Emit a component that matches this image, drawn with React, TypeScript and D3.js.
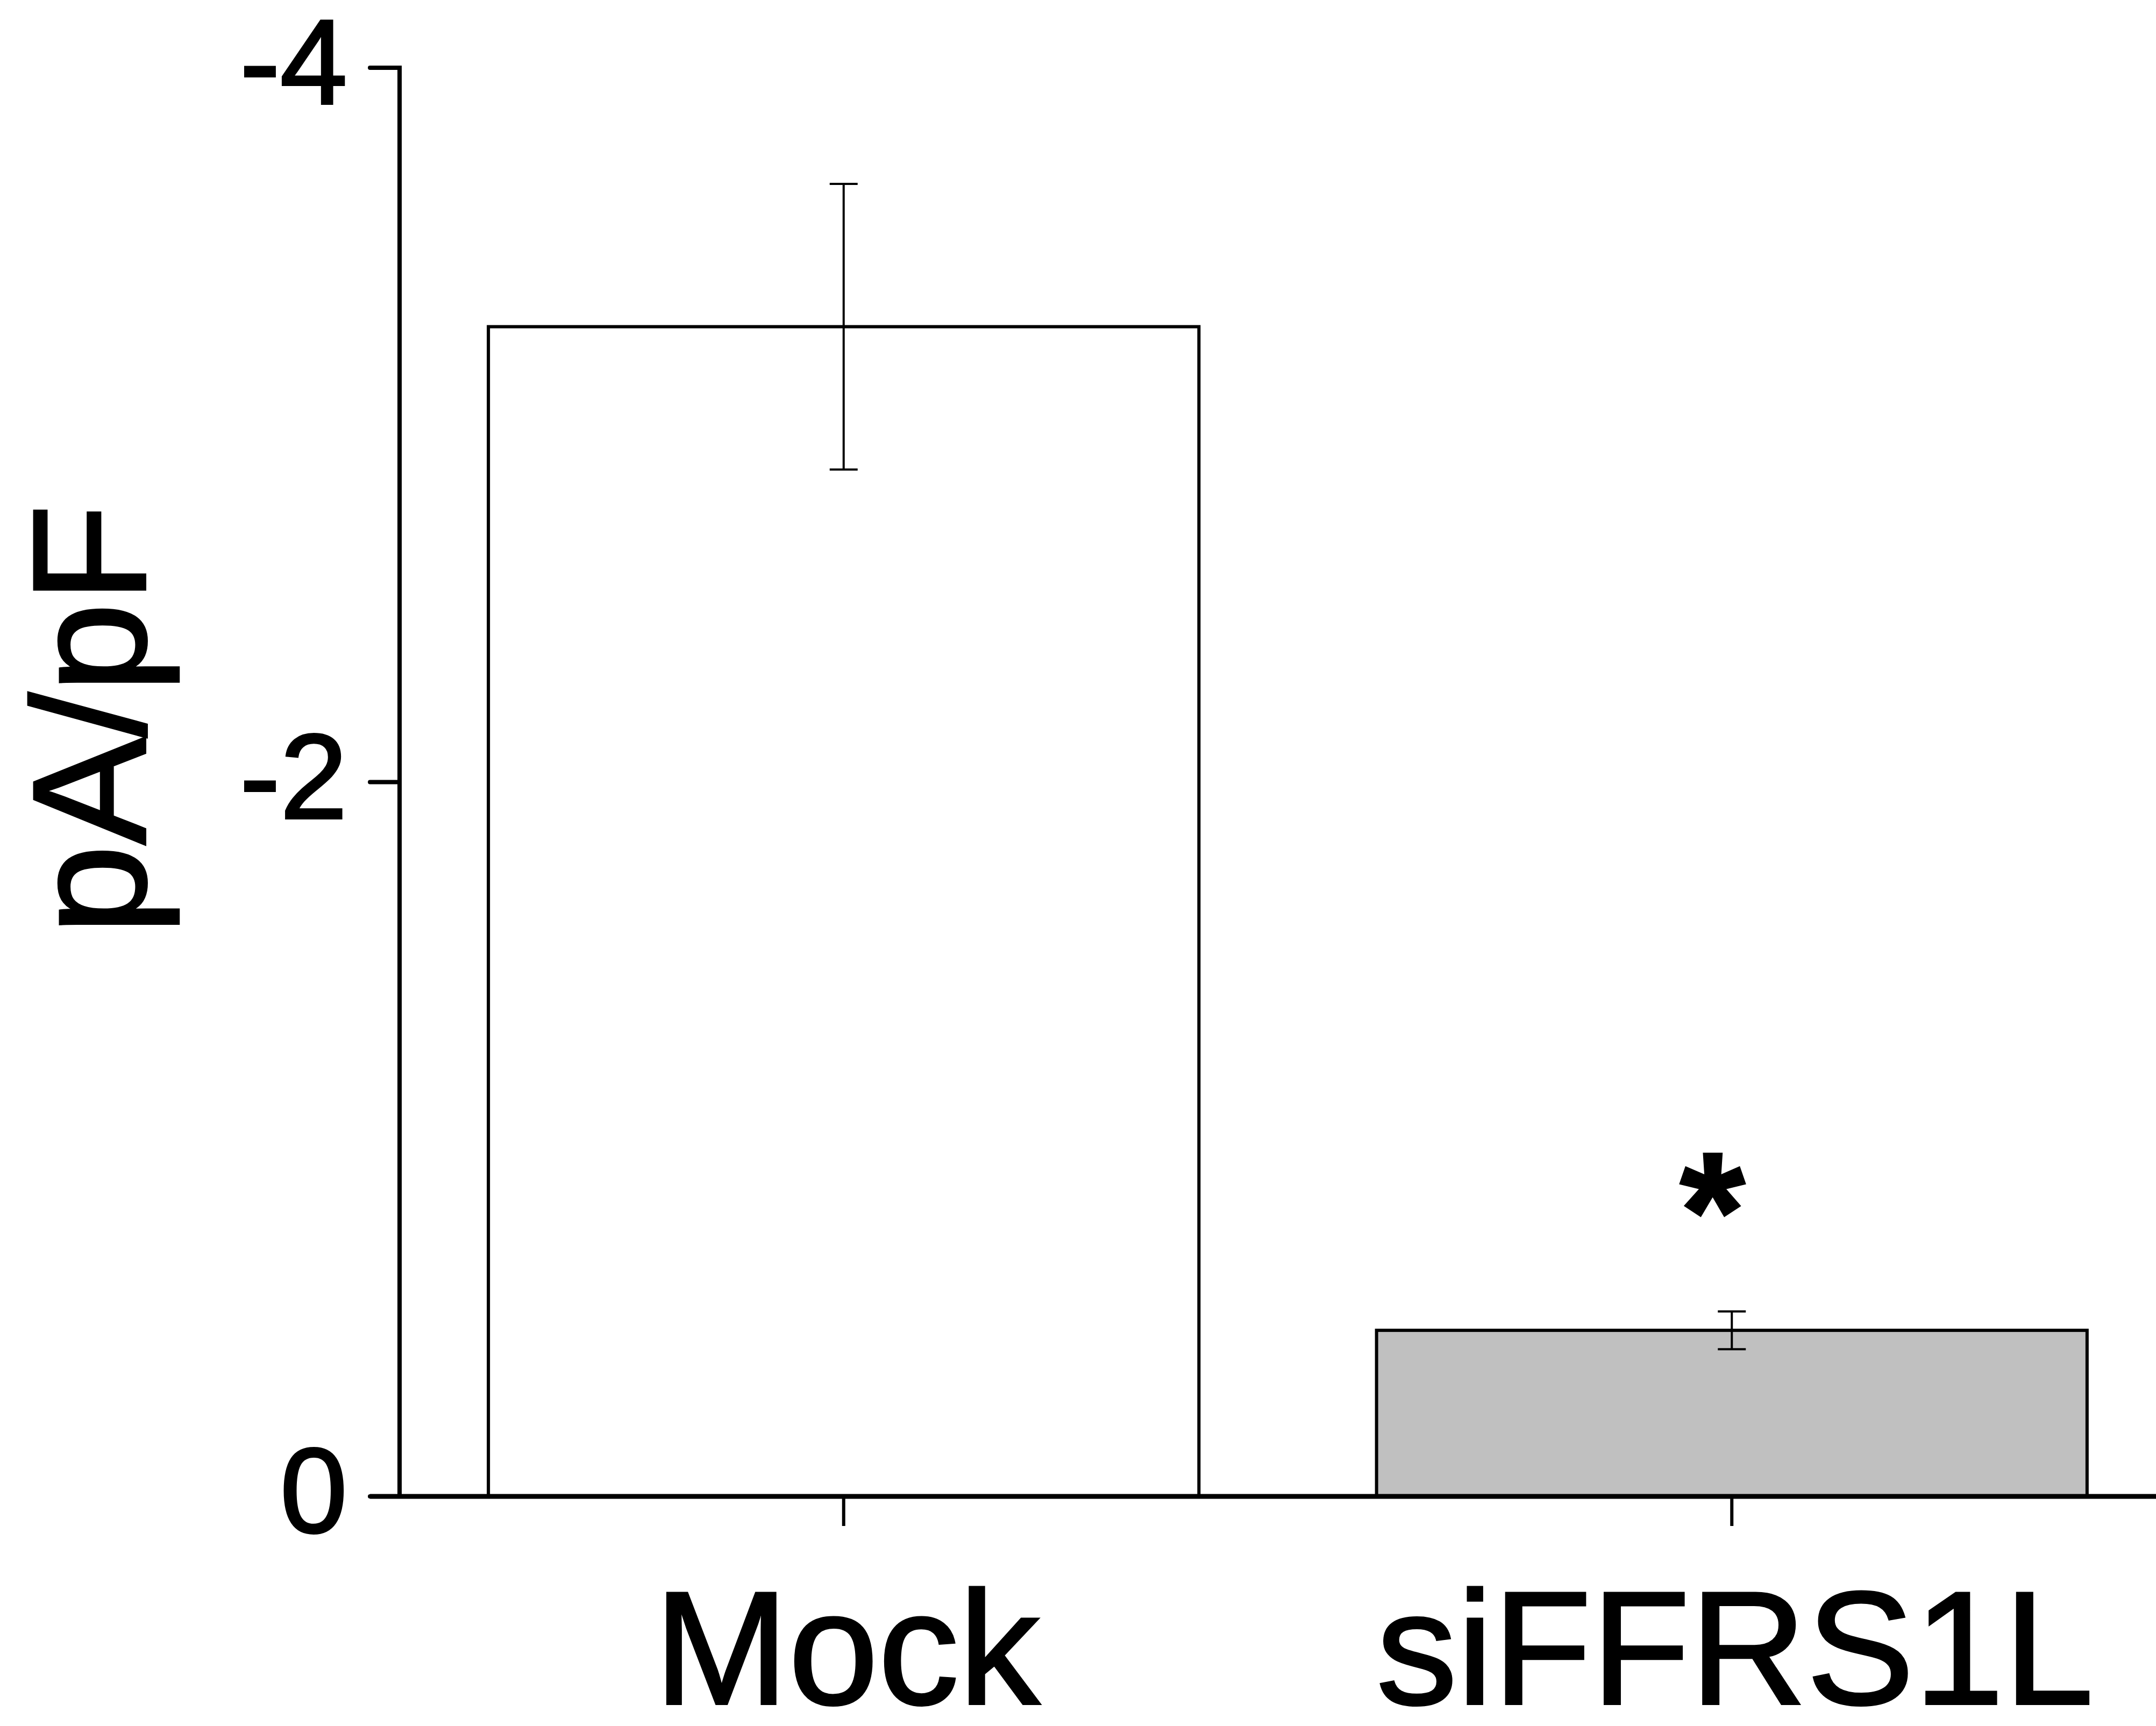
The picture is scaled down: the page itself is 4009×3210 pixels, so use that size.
import React, { useEffect } from "react";
import * as d3 from "d3";

const categories: string[] = ["Mock", "siFFRS1L"];
const means: number[] = [-3.275, -0.465];
const errors: number[] = [0.4, 0.053];
const fills: string[] = ["#ffffff", "#c0c0c0"];
const yTicks: number[] = [0, -2, -4];
const yTickLabels: string[] = ["0", "-2", "-4"];
const significance: string[] = ["", "*"];
const yLabel = "pA/pF";

const W = 4009;
const H = 3210;
const FONT = "'Liberation Sans', Arial, Helvetica, sans-serif";

export default function App() {
  useEffect(() => {
    document.body.style.margin = "0";
  }, []);

  const axisX = 743;
  const y = d3.scaleLinear().domain([0, -4]).range([2783, 126]);
  const x = d3
    .scaleBand<string>()
    .domain(categories)
    .range([axisX, 4046])
    .paddingInner(0.2)
    .paddingOuter(0.1);
  const bw = x.bandwidth();
  const y0 = y(0);

  return (
    <svg width={W} height={H} style={{ display: "block", background: "#fff" }}>
      <rect x={0} y={0} width={W} height={H} fill="#fff" />
      {/* bars */}
      {categories.map((c, i) => {
        const top = y(means[i]);
        return (
          <rect
            key={c}
            x={x(c)!}
            y={top}
            width={bw}
            height={y0 - top}
            fill={fills[i]}
            stroke="#000"
            strokeWidth={6}
          />
        );
      })}
      {/* error bars */}
      {categories.map((c, i) => {
        const cx = x(c)! + bw / 2;
        const hi = y(means[i] - errors[i]);
        const lo = y(means[i] + errors[i]);
        return (
          <g key={"e" + c} stroke="#000" strokeWidth={4}>
            <line x1={cx} x2={cx} y1={hi} y2={lo} />
            <line x1={cx - 26} x2={cx + 26} y1={hi} y2={hi} />
            <line x1={cx - 26} x2={cx + 26} y1={lo} y2={lo} />
          </g>
        );
      })}
      {/* significance */}
      {categories.map((c, i) =>
        significance[i] ? (
          <text
            key={"s" + c}
            x={x(c)! + bw / 2 - 36}
            y={y(means[i] - errors[i]) - 80}
            textAnchor="middle"
            fontFamily={FONT}
            fontWeight="bold"
            fontSize={310}
            fill="#000"
            stroke="#000"
            strokeWidth={4}
          >
            {significance[i]}
          </text>
        ) : null
      )}
      {/* y axis */}
      <line x1={axisX} x2={axisX} y1={y(-4) - 4} y2={y0 + 4} stroke="#000" strokeWidth={8} />
      {yTicks.map((t, i) => (
        <g key={"yt" + t}>
          <line x1={688} x2={axisX} y1={y(t)} y2={y(t)} stroke="#000" strokeWidth={8} strokeLinecap="round" />
          <text
            x={646}
            y={y(t) + 67}
            textAnchor="end"
            fontFamily={FONT}
            fontSize={225}
            fill="#000"
            stroke="#000"
            strokeWidth={4}
          >
            {yTickLabels[i]}
          </text>
        </g>
      ))}
      {/* x axis */}
      <line x1={688} x2={W} y1={y0} y2={y0} stroke="#000" strokeWidth={9} />
      {categories.map((c) => {
        const cx = x(c)! + bw / 2;
        return (
          <g key={"xt" + c}>
            <line x1={cx} x2={cx} y1={y0} y2={y0 + 55} stroke="#000" strokeWidth={6} />
            <text
              x={cx + 6}
              y={3169}
              textAnchor="middle"
              fontFamily={FONT}
              fontSize={300}
              fill="#000"
              stroke="#000"
              strokeWidth={4}
            >
              {c}
            </text>
          </g>
        );
      })}
      {/* y label */}
      <text
        transform={`translate(270, 1338) rotate(-90)`}
        textAnchor="middle"
        fontFamily={FONT}
        fontSize={300}
        fill="#000"
        stroke="#000"
        strokeWidth={4}
      >
        {yLabel}
      </text>
    </svg>
  );
}
